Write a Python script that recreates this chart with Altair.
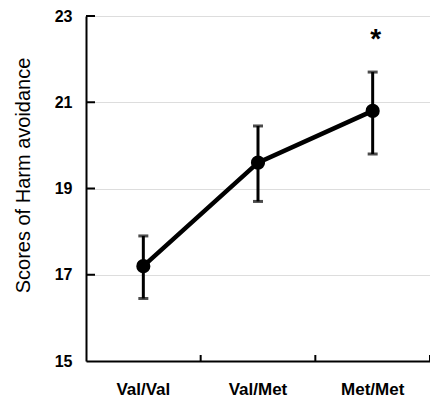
import altair as alt
import pandas as pd

categories = ["Val/Val", "Val/Met", "Met/Met"]
means = [17.2, 19.6, 20.8]
upper = [17.9, 20.45, 21.7]
lower = [16.45, 18.7, 19.8]
y_ticks = [15, 17, 19, 21, 23]
sig_group = ["Met/Met"]
sig_label = ["*"]
sig_pos = [22.25]

FONT = "Liberation Sans"

df = pd.DataFrame({"group": categories, "mean": means, "upper": upper, "lower": lower})
ticks_df = pd.DataFrame({"v": y_ticks[1:]})
sig_df = pd.DataFrame({"group": sig_group, "label": sig_label, "pos": sig_pos})

x_axis = alt.Axis(
    title=None, labelAngle=0, ticks=False, tickSize=0, domainColor="black", domainWidth=2,
    labelFont=FONT, labelFontSize=17, labelFontWeight="bold", labelColor="black",
    labelPadding=20,
)
y_axis = alt.Axis(
    title="Scores of Harm avoidance", values=y_ticks, ticks=False, tickSize=0,
    domainColor="black", domainWidth=2,
    labelFont=FONT, labelFontSize=16, labelFontWeight="bold", labelColor="black",
    labelPadding=14,
    titleFont=FONT, titleFontSize=20, titleFontWeight="normal", titleColor="black",
    titleX=-53, titleY=159,
)
x_scale = alt.Scale(paddingInner=0, paddingOuter=0)
y_scale = alt.Scale(domain=[15, 23], nice=False, zero=False)

def X(**kw):
    return alt.X("group:N", sort=categories, scale=x_scale, axis=x_axis, **kw)

base = alt.Chart(df)

line = base.mark_line(color="black", strokeWidth=4.5).encode(
    x=X(), y=alt.Y("mean:Q", scale=y_scale, axis=y_axis)
)
err = base.mark_rule(color="black", strokeWidth=3).encode(
    x=X(), y=alt.Y("lower:Q", scale=y_scale, axis=y_axis), y2="upper:Q"
)
cap_hi = base.mark_tick(color="black", size=10, thickness=3).encode(
    x=X(), y=alt.Y("upper:Q", scale=y_scale, axis=y_axis)
)
cap_lo = base.mark_tick(color="black", size=10, thickness=3).encode(
    x=X(), y=alt.Y("lower:Q", scale=y_scale, axis=y_axis)
)
pts = base.mark_point(filled=True, color="black", size=200, opacity=1).encode(
    x=X(), y=alt.Y("mean:Q", scale=y_scale, axis=y_axis)
)
xticks = base.mark_rule(color="black", strokeWidth=2).encode(
    x=X(bandPosition=1), y=alt.value(345), y2=alt.value(339)
)
yticks = alt.Chart(ticks_df).mark_rule(color="black", strokeWidth=2).encode(
    y=alt.Y("v:Q", scale=y_scale, axis=y_axis), x=alt.value(0), x2=alt.value(9)
)
sig = alt.Chart(sig_df).mark_text(
    font=FONT, fontSize=28, fontWeight="bold", color="black", baseline="alphabetic", dx=3
).encode(
    x=X(), y=alt.Y("pos:Q", scale=y_scale, axis=y_axis), text="label:N"
)

chart = alt.layer(line, err, cap_hi, cap_lo, pts, xticks, yticks, sig).properties(
    width=344, height=345,
    autosize=alt.AutoSizeParams(type="none"),
    padding={"left": 78, "top": 8, "right": 0, "bottom": 42},
).configure_view(stroke=None).configure(background="white")

chart.save("out.html", embed_options={"renderer": "svg", "actions": False})
